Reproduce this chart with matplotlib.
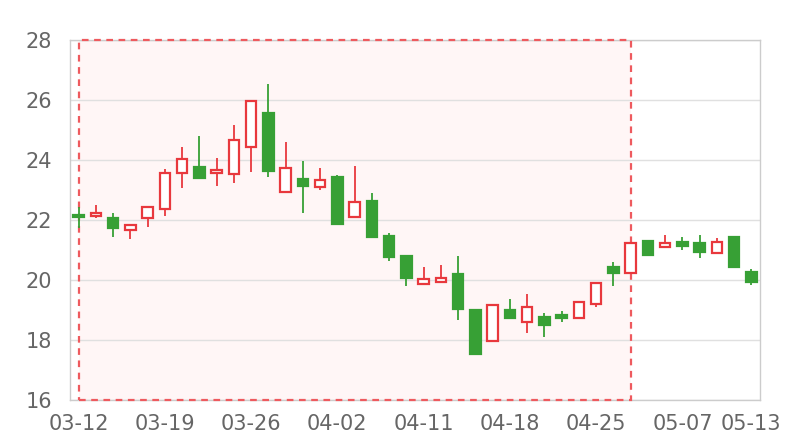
import matplotlib
matplotlib.use("Agg")
import matplotlib.pyplot as plt
from matplotlib.patches import Rectangle

dates = ["03-12", "03-13", "03-14", "03-15", "03-16", "03-19", "03-20", "03-21",
         "03-22", "03-23", "03-26", "03-27", "03-28", "03-29", "03-30", "04-02",
         "04-03", "04-04", "04-09", "04-10", "04-11", "04-12", "04-13", "04-16",
         "04-17", "04-18", "04-19", "04-20", "04-23", "04-24", "04-25", "04-26",
         "04-27", "05-02", "05-03", "05-07", "05-08", "05-09", "05-10", "05-13"]

opens = [22.17, 22.12, 22.07, 21.68, 22.05, 22.35, 23.58, 23.75, 23.55, 23.52,
         24.43, 25.57, 22.92, 23.35, 23.10, 23.43, 22.10, 22.63, 21.45, 20.80,
         19.85, 19.92, 20.20, 19.00, 17.97, 19.00, 18.60, 18.77, 18.83, 18.73,
         19.20, 20.43, 20.23, 21.30, 21.10, 21.25, 21.23, 20.90, 21.45, 20.27]
closes = [22.10, 22.25, 21.72, 21.83, 22.43, 23.55, 24.03, 23.40, 23.67, 24.68,
          25.95, 23.63, 23.72, 23.15, 23.33, 21.88, 22.60, 21.45, 20.77, 20.07,
          20.03, 20.07, 19.03, 17.53, 19.17, 18.75, 19.10, 18.50, 18.72, 19.27,
          19.90, 20.25, 21.23, 20.83, 21.22, 21.15, 20.95, 21.27, 20.45, 19.92]
lows = [21.75, 22.05, 21.45, 21.38, 21.78, 22.15, 23.07, 23.35, 23.15, 23.22,
        23.60, 23.45, 22.92, 22.25, 23.00, 21.82, 22.10, 21.45, 20.65, 19.80,
        19.85, 19.92, 18.67, 17.52, 17.97, 18.70, 18.25, 18.10, 18.60, 18.73,
        19.10, 19.80, 20.20, 20.80, 21.08, 21.00, 20.73, 20.87, 20.43, 19.82]
highs = [22.45, 22.50, 22.23, 21.85, 22.45, 23.70, 24.43, 24.80, 24.07, 25.17,
         25.95, 26.52, 24.60, 23.97, 23.75, 23.50, 23.80, 22.90, 21.57, 20.80,
         20.43, 20.50, 20.80, 19.02, 19.20, 19.37, 19.53, 18.90, 18.97, 19.30,
         19.93, 20.60, 21.25, 21.30, 21.50, 21.45, 21.50, 21.40, 21.45, 20.37]

# highlighted range (markArea)
area_start = "03-12"
area_end = "04-27"

red = "#e8383d"
green = "#37a035"

fig = plt.figure(figsize=(8, 4.4), dpi=100)
ax = fig.add_axes([70 / 800, 40 / 440, 690 / 800, 360 / 440])

x = list(range(len(dates)))
up = [c >= o for o, c in zip(opens, closes)]
colors = [red if u else green for u in up]

ax.vlines(x, lows, highs, colors=colors, linewidth=1.3, zorder=3)

bottoms = [min(o, c) for o, c in zip(opens, closes)]
heights = [max(abs(c - o), 0.04) for o, c in zip(opens, closes)]
faces = ["white" if u else green for u in up]
ax.bar(x, heights, bottom=bottoms, width=0.62, color=faces,
       edgecolor=colors, linewidth=1.6, zorder=4)

# mark area: fill under the grid lines, dashed border above the spines
i0 = dates.index(area_start)
i1 = dates.index(area_end)
ax.add_patch(Rectangle((i0, 16), i1 - i0, 12, facecolor="#fff6f6",
                       edgecolor="none", zorder=0.1))
ax.add_patch(Rectangle((i0, 16), i1 - i0, 12, facecolor="none",
                       edgecolor="#ee5a5e", linestyle=(0, (3, 2.5)),
                       linewidth=1.6, zorder=2.7, clip_on=False))

ax.set_xlim(-0.5, len(dates) - 0.5)
ax.set_ylim(16, 28)
ax.set_yticks(range(16, 29, 2))
ticks = list(range(0, len(dates), 5)) + [len(dates) - 1]
ax.set_xticks(ticks)
ax.set_xticklabels([dates[i] for i in ticks])

ax.grid(axis="y", color="#e0e0e0", linewidth=1, zorder=0.5)
ax.set_axisbelow(True)
for s in ax.spines.values():
    s.set_color("#cccccc")
    s.set_linewidth(1)
ax.tick_params(length=0, labelsize=15, colors="#666666")
ax.tick_params(axis="x", pad=10)
ax.tick_params(axis="y", pad=13)

fig.savefig("out.png", dpi=100)
